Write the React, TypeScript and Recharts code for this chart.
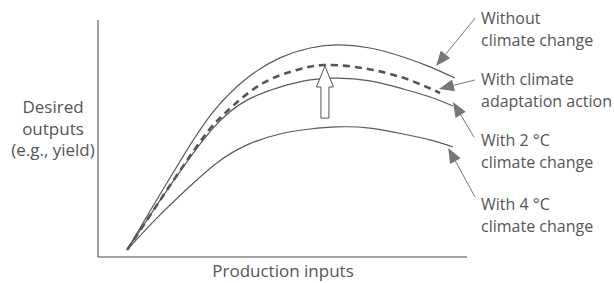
import { LineChart, Line, XAxis, YAxis, ReferenceLine } from 'recharts';

// x and y are on a 0–100 scale (production inputs vs desired outputs)
const withoutChange = [
  { x: 7.9, y: 3.0 },
  { x: 14.1, y: 19.4 },
  { x: 22.8, y: 41.8 },
  { x: 31.2, y: 61.2 },
  { x: 40.4, y: 75.5 },
  { x: 49.3, y: 84.0 },
  { x: 57.5, y: 88.2 },
  { x: 65.0, y: 89.5 },
  { x: 73.7, y: 88.2 },
  { x: 82.7, y: 84.4 },
  { x: 90.0, y: 80.2 },
  { x: 96.7, y: 75.5 },
];

const withAdaptation = [
  { x: 7.9, y: 3.0 },
  { x: 25.7, y: 44.3 },
  { x: 33.9, y: 59.9 },
  { x: 43.9, y: 72.6 },
  { x: 53.9, y: 78.9 },
  { x: 61.0, y: 81.0 },
  { x: 69.6, y: 80.2 },
  { x: 78.3, y: 77.6 },
  { x: 85.9, y: 73.8 },
  { x: 92.7, y: 69.2 },
];

const with2C = [
  { x: 7.9, y: 3.0 },
  { x: 19.5, y: 30.0 },
  { x: 31.2, y: 54.4 },
  { x: 40.4, y: 66.2 },
  { x: 49.3, y: 71.7 },
  { x: 57.5, y: 74.7 },
  { x: 64.8, y: 75.5 },
  { x: 73.7, y: 74.3 },
  { x: 82.7, y: 70.9 },
  { x: 90.0, y: 67.5 },
  { x: 96.2, y: 63.7 },
];

const with4C = [
  { x: 7.9, y: 3.0 },
  { x: 16.0, y: 16.5 },
  { x: 24.1, y: 28.7 },
  { x: 32.2, y: 39.7 },
  { x: 40.4, y: 47.3 },
  { x: 49.3, y: 51.9 },
  { x: 57.5, y: 54.0 },
  { x: 64.8, y: 54.9 },
  { x: 73.7, y: 54.4 },
  { x: 82.7, y: 51.9 },
  { x: 90.0, y: 49.4 },
  { x: 96.2, y: 46.4 },
];

// callouts: label anchor -> point on curve
const callouts = [
  { from: { x: 102.2, y: 100.8 }, to: { x: 91.6, y: 80.6 } },
  { from: { x: 102.2, y: 74.7 }, to: { x: 92.4, y: 70.9 } },
  { from: { x: 101.9, y: 50.6 }, to: { x: 96.2, y: 65.4 } },
  { from: { x: 102.2, y: 25.3 }, to: { x: 94.9, y: 46.0 } },
];

const shiftArrow = { x: 61.5, from: 58.6, to: 80.6 };

const rightLabels = [
  ['Without', 'climate change'],
  ['With climate', 'adaptation action'],
  ['With 2 °C', 'climate change'],
  ['With 4 °C', 'climate change'],
];
const rightLabelTops = [24, 85, 146, 210];
const yLabel = ['Desired', 'outputs', '(e.g., yield)'];

const ink = '#5a5a5a';
const font = '"Open Sans", sans-serif';

function CalloutArrow(props: any) {
  const { x1, y1, x2, y2 } = props;
  const dx = x2 - x1;
  const dy = y2 - y1;
  const len = Math.sqrt(dx * dx + dy * dy);
  const ux = dx / len;
  const uy = dy / len;
  const head = 15;
  const half = 6;
  const bx = x2 - ux * head;
  const by = y2 - uy * head;
  return (
    <g>
      <line x1={x1} y1={y1} x2={bx} y2={by} stroke="#777" strokeWidth={1} />
      <polygon
        points={`${x2},${y2} ${bx - uy * half},${by + ux * half} ${bx + uy * half},${by - ux * half}`}
        fill="#777"
      />
    </g>
  );
}

function HollowArrow(props: any) {
  const { x1, y1, y2 } = props;
  const bottom = Math.max(y1, y2);
  const top = Math.min(y1, y2);
  const headH = 21;
  const shaft = 4;
  const headW = 8.5;
  const neck = top + headH;
  const pts = [
    [x1 - shaft, bottom],
    [x1 - shaft, neck],
    [x1 - headW, neck],
    [x1, top],
    [x1 + headW, neck],
    [x1 + shaft, neck],
    [x1 + shaft, bottom],
  ]
    .map((p) => p.join(','))
    .join(' ');
  return <polygon points={pts} fill="#fff" stroke="#555" strokeWidth={1} />;
}

export default function App() {
  return (
    <div style={{ position: 'absolute', left: 0, top: 0, width: 614, height: 283, background: '#fff' }}>
      <LineChart width={614} height={283} margin={{ top: 20, right: 147, bottom: 25, left: 97 }}>
        <XAxis
          type="number"
          dataKey="x"
          domain={[0, 100]}
          allowDataOverflow
          height={1}
          tick={false}
          tickLine={false}
          axisLine={{ stroke: '#444' }}
        />
        <YAxis
          type="number"
          domain={[0, 100]}
          allowDataOverflow
          width={1}
          tick={false}
          tickLine={false}
          axisLine={{ stroke: '#444' }}
        />
        <Line data={withoutChange} dataKey="y" type="natural" stroke={ink} strokeWidth={1.2} dot={false} isAnimationActive={false} />
        <Line data={with2C} dataKey="y" type="natural" stroke={ink} strokeWidth={1.2} dot={false} isAnimationActive={false} />
        <Line data={with4C} dataKey="y" type="natural" stroke={ink} strokeWidth={1.2} dot={false} isAnimationActive={false} />
        <Line
          data={withAdaptation}
          dataKey="y"
          type="natural"
          stroke="#555"
          strokeWidth={2.6}
          strokeDasharray="7 5"
          dot={false}
          isAnimationActive={false}
        />
        <ReferenceLine
          segment={[
            { x: shiftArrow.x, y: shiftArrow.from },
            { x: shiftArrow.x, y: shiftArrow.to },
          ]}
          ifOverflow="visible"
          shape={HollowArrow}
        />
        {callouts.map((c, i) => (
          <ReferenceLine key={i} segment={[c.from, c.to]} ifOverflow="visible" shape={CalloutArrow} />
        ))}
      </LineChart>
      <svg width={614} height={283} style={{ position: 'absolute', left: 0, top: 0, pointerEvents: 'none' }}>
        <g fontFamily={font} fill="#555">
          {yLabel.map((t, i) => (
            <text key={t} x={53} y={113 + i * 21.5} textAnchor="middle" fontSize={17}>
              {t}
            </text>
          ))}
          <text x={283} y={277} textAnchor="middle" fontSize={17}>
            Production inputs
          </text>
          {rightLabels.map((lines, i) =>
            lines.map((t, j) => (
              <text key={`${i}-${j}`} x={481} y={rightLabelTops[i] + j * 22} fontSize={16}>
                {t}
              </text>
            ))
          )}
        </g>
      </svg>
    </div>
  );
}
